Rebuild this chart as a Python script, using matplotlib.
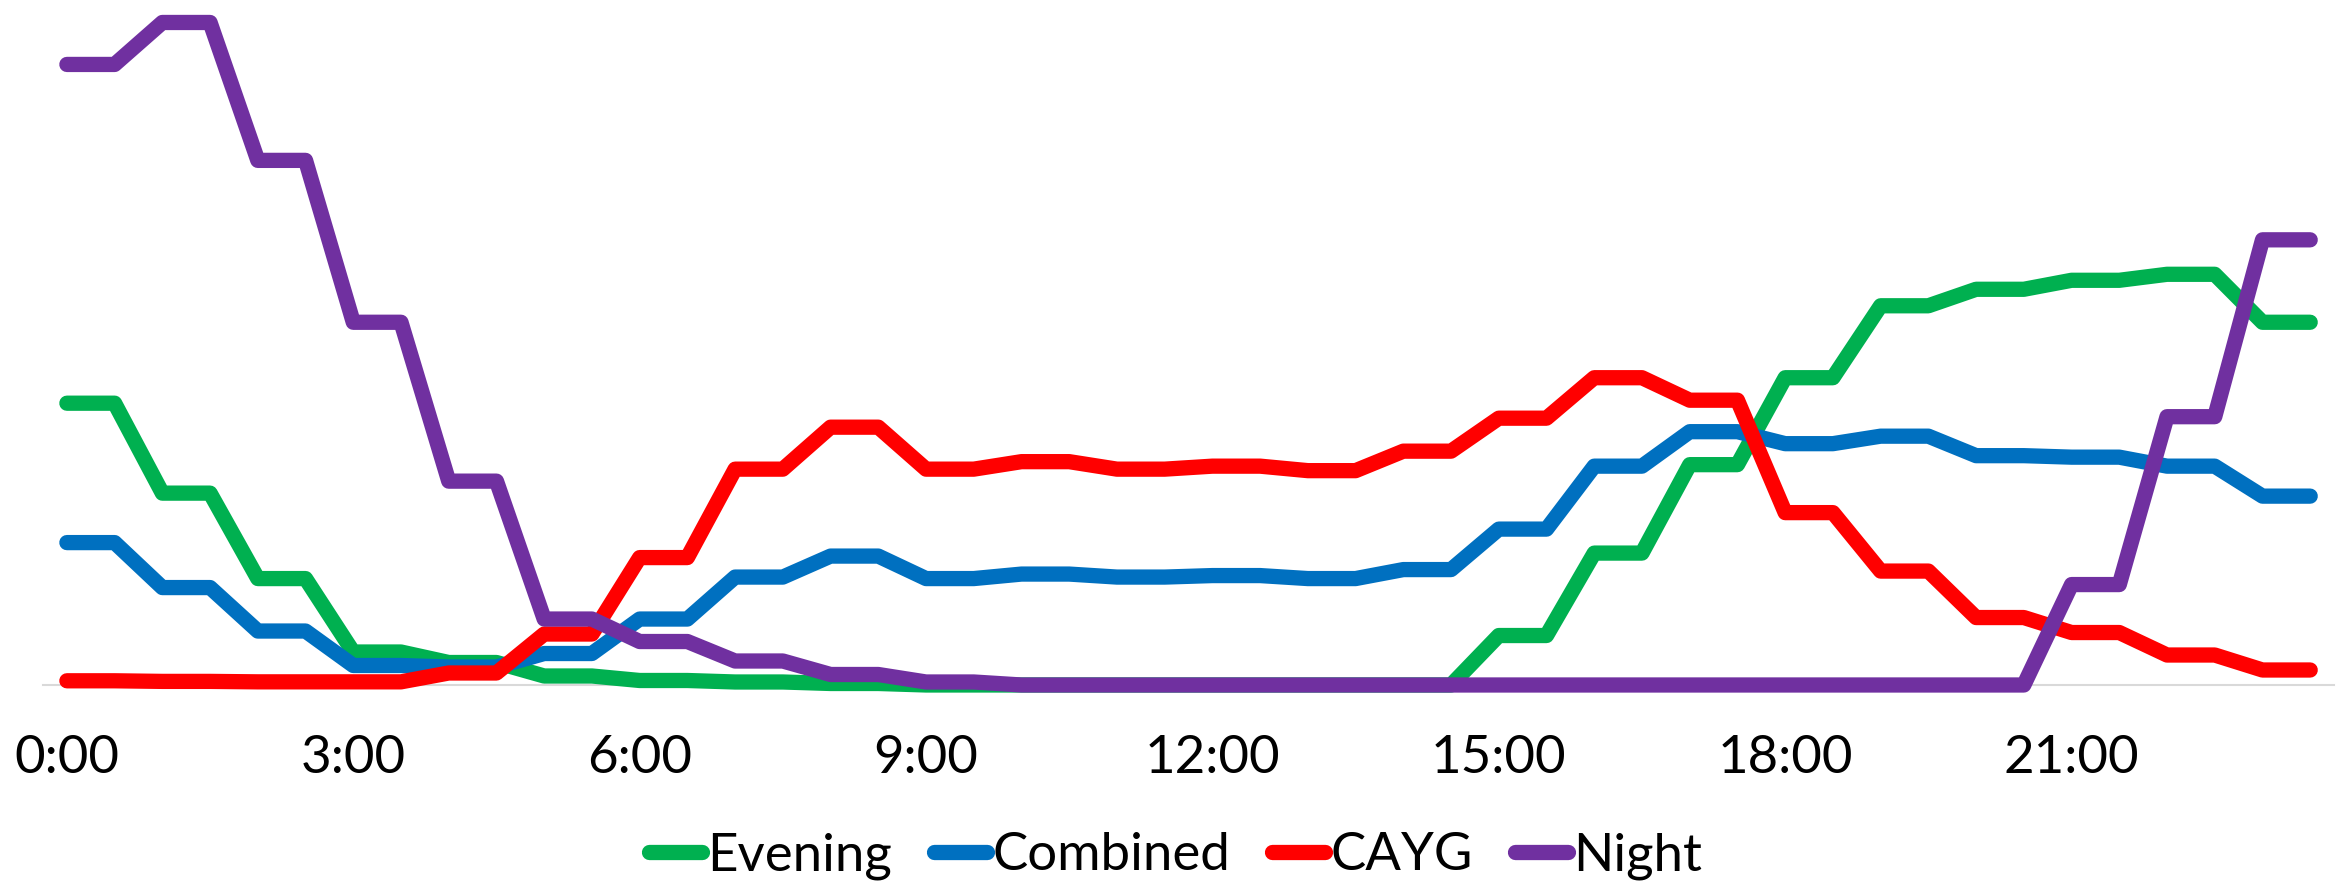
import numpy as np
import matplotlib
matplotlib.use("Agg")
from matplotlib import pyplot as plt

# half-hourly time slots, 0:00 .. 23:30
hours = np.arange(48) * 0.5
tick_hours = [0, 3, 6, 9, 12, 15, 18, 21]
tick_labels = ["0:00", "3:00", "6:00", "9:00", "12:00", "15:00", "18:00", "21:00"]

evening = [18.8, 18.8, 12.8, 12.8, 7.1, 7.1, 2.2, 2.2, 1.5, 1.5, 0.6, 0.6,
           0.3, 0.3, 0.2, 0.2, 0.1, 0.1, 0, 0, 0, 0, 0, 0,
           0, 0, 0, 0, 0, 0, 3.3, 3.3, 8.8, 8.8, 14.7, 14.7,
           20.5, 20.5, 25.3, 25.3, 26.4, 26.4, 27.0, 27.0, 27.4, 27.4, 24.2, 24.2]
combined = [9.5, 9.5, 6.5, 6.5, 3.6, 3.6, 1.3, 1.3, 1.2, 1.2, 2.1, 2.1,
            4.4, 4.4, 7.2, 7.2, 8.6, 8.6, 7.1, 7.1, 7.4, 7.4, 7.2, 7.2,
            7.3, 7.3, 7.1, 7.1, 7.7, 7.7, 10.4, 10.4, 14.6, 14.6, 16.9, 16.9,
            16.1, 16.1, 16.6, 16.6, 15.3, 15.3, 15.2, 15.2, 14.6, 14.6, 12.6, 12.6]
cayg = [0.28, 0.28, 0.24, 0.24, 0.21, 0.21, 0.21, 0.21, 0.8, 0.8, 3.4, 3.4,
        8.5, 8.5, 14.4, 14.4, 17.2, 17.2, 14.4, 14.4, 14.9, 14.9, 14.4, 14.4,
        14.6, 14.6, 14.3, 14.3, 15.6, 15.6, 17.8, 17.8, 20.5, 20.5, 19.0, 19.0,
        11.5, 11.5, 7.6, 7.6, 4.5, 4.5, 3.5, 3.5, 2.0, 2.0, 1.0, 1.0]
night = [41.4, 41.4, 44.2, 44.2, 35.0, 35.0, 24.2, 24.2, 13.6, 13.6, 4.4, 4.4,
         2.9, 2.9, 1.6, 1.6, 0.7, 0.7, 0.2, 0.2, 0, 0, 0, 0,
         0, 0, 0, 0, 0, 0, 0, 0, 0, 0, 0, 0,
         0, 0, 0, 0, 0, 0, 6.7, 6.7, 17.9, 17.9, 29.7, 29.7]

series = [
    ("Evening", evening, "#00B050"),
    ("Combined", combined, "#0070C0"),
    ("CAYG", cayg, "#FF0000"),
    ("Night", night, "#7030A0"),
]

plt.rcParams["font.family"] = ["Lato", "DejaVu Sans"]

fig = plt.figure(figsize=(23.51, 8.85), dpi=100)
ax = fig.add_axes([0.0183, 0.226, 0.9745, 0.774])

for name, vals, color in series:
    ax.plot(hours, vals, color=color, lw=11, label=name,
            solid_capstyle="round", solid_joinstyle="round", clip_on=False)

ax.set_xlim(-0.25, 23.75)
ax.set_ylim(0, 45.7)
ax.set_xticks(tick_hours)
ax.set_xticklabels(tick_labels, fontsize=38)
ax.tick_params(axis="x", length=0, pad=36)
ax.set_yticks([])
for side in ["top", "right", "left"]:
    ax.spines[side].set_visible(False)
ax.spines["bottom"].set_color("#D9D9D9")
ax.spines["bottom"].set_linewidth(1.5)
ax.spines["bottom"].set_zorder(0)

fig.legend(loc="center", bbox_to_anchor=(0.5, 0.033), ncol=4, frameon=False,
           fontsize=38, handlelength=1.0, handletextpad=0.1, columnspacing=0.8)

fig.savefig("out.png", dpi=100)
plt.close(fig)
